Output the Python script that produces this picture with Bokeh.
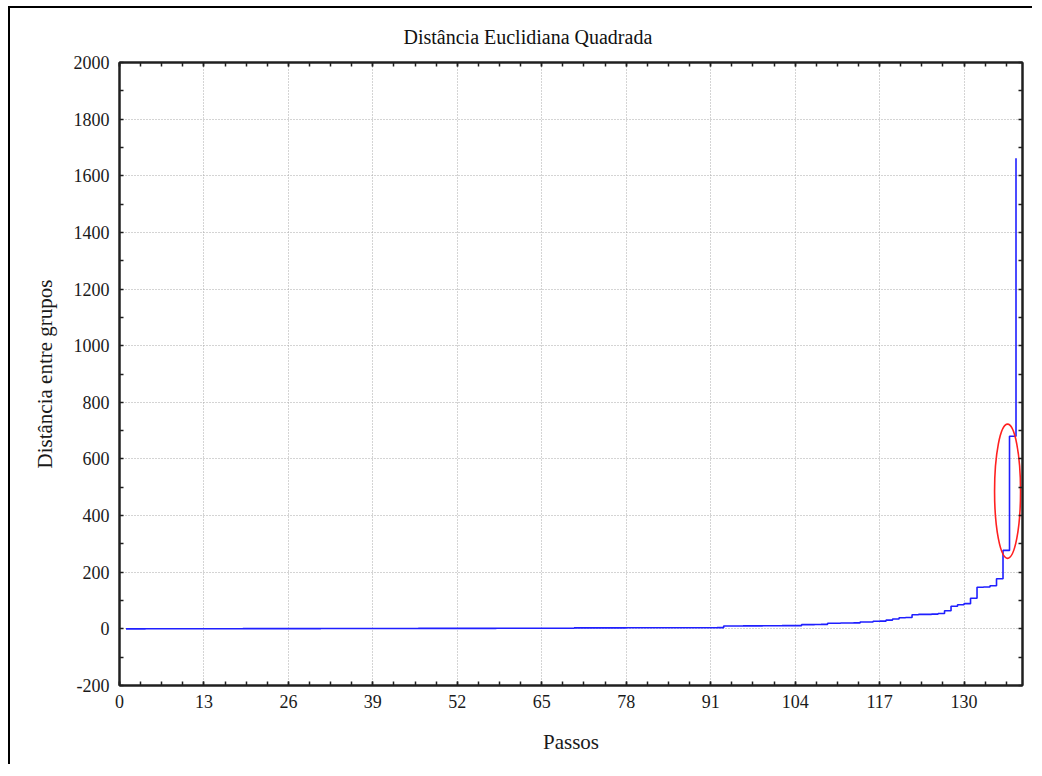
from bokeh.plotting import figure
from bokeh.models import LinearAxis, Range1d, FixedTicker, Title
from bokeh.embed import file_html
from bokeh.resources import INLINE

# ---- data ----
steps = list(range(1, 139))
distances = (
    [0.1, 0.1, 0.1, 0.2, 0.2, 0.2, 0.3, 0.3, 0.3, 0.4,
     0.4, 0.4, 0.5, 0.5, 0.5, 0.6, 0.6, 0.6, 0.7, 0.7,
     0.7, 0.8, 0.8, 0.8, 0.9, 0.9, 0.9, 1.0, 1.0, 1.0,
     1.1, 1.1, 1.1, 1.2, 1.2, 1.2, 1.3, 1.3, 1.3, 1.4,
     1.4, 1.4, 1.5, 1.5, 1.5, 1.6, 1.6, 1.6, 1.7, 1.7,
     1.7, 1.8, 1.8, 1.8, 1.9, 1.9, 1.9, 2.0, 2.0, 2.0,
     2.1, 2.1, 2.1, 2.2, 2.2, 2.3, 2.3, 2.4, 2.4]
    + [3.4, 3.4, 3.5, 3.5, 3.5, 3.6, 3.6, 3.6, 3.7, 3.7,
       3.7, 3.8, 3.8, 3.8, 3.9, 3.9, 3.9, 4.0, 4.0, 4.0,
       4.1, 4.1, 4.2]
    + [10, 10, 10, 10.5, 10.5, 10.5, 11, 11, 11, 11.5, 11.5, 11.5]
    + [15, 15, 15.5, 16]
    + [20, 20, 20.5, 20.5, 21]
    + [24, 24.5]
    + [27, 27.5]
    + [31, 35, 39, 40]
    + [50, 51, 51, 52]
    + [54, 64, 80, 85, 89, 108, 147, 148, 152, 177, 277, 680, 1662]
)

x_ticks = [0, 13, 26, 39, 52, 65, 78, 91, 104, 117, 130]
y_ticks = [-200, 0, 200, 400, 600, 800, 1000, 1200, 1400, 1600, 1800, 2000]

# highlighted region (ellipse annotation): centre x, centre y, width, height
mark_x = [136.7]
mark_y = [486]
mark_w = [4.0]
mark_h = [474]

title_text = "Distância Euclidiana Quadrada"
x_label = "Passos"
y_label = "Distância entre grupos"

FONT = "Liberation Serif"

x_minor = [t + k * 3.25 for t in x_ticks + [143] for k in range(0, 4)]
y_minor = [t + 100 for t in y_ticks]

p = figure(width=1024, height=758,
           x_range=Range1d(0, 139), y_range=Range1d(-200, 2000),
           output_backend="svg", toolbar_location=None,
           min_border_left=109, min_border_right=12,
           min_border_top=54, min_border_bottom=81,
           title=None,
           styles={"border-left": "2px solid black", "border-top": "2px solid black",
                   "margin-left": "8px", "margin-top": "6px"})

p.background_fill_color = "white"
p.border_fill_color = "white"
p.outline_line_color = "#202020"
p.outline_line_width = 2

xt = FixedTicker(ticks=x_ticks, minor_ticks=x_minor)
yt = FixedTicker(ticks=y_ticks, minor_ticks=y_minor)

p.xaxis.ticker = xt
p.yaxis.ticker = yt

for ax in (p.xaxis[0], p.yaxis[0]):
    ax.axis_line_color = "#202020"
    ax.axis_line_width = 2
    ax.major_tick_in = 4
    ax.major_tick_out = 0
    ax.minor_tick_in = 4
    ax.minor_tick_out = 0
    ax.major_tick_line_color = "#202020"
    ax.minor_tick_line_color = "#202020"
    ax.major_tick_line_width = 1.5
    ax.minor_tick_line_width = 1.5
    ax.major_label_text_font = FONT
    ax.major_label_text_font_size = "18px"
    ax.major_label_text_color = "#1a1a1a"
    ax.axis_label_text_font = FONT
    ax.axis_label_text_font_size = "21px"
    ax.axis_label_text_font_style = "normal"
    ax.axis_label_text_color = "#1a1a1a"

p.yaxis.major_label_overrides = {-200: "-200"}
p.xaxis.axis_label = x_label
p.yaxis.axis_label = y_label
p.xaxis.major_label_standoff = 9
p.yaxis.major_label_standoff = 10
p.xaxis.axis_label_standoff = 19
p.yaxis.axis_label_standoff = 14

for side, tk in (("above", xt), ("right", yt)):
    ax = LinearAxis(ticker=tk)
    ax.axis_line_color = "#202020"
    ax.axis_line_width = 2
    ax.major_tick_in = 4
    ax.major_tick_out = 0
    ax.minor_tick_in = 4
    ax.minor_tick_out = 0
    ax.major_tick_line_color = "#202020"
    ax.minor_tick_line_color = "#202020"
    ax.major_tick_line_width = 1.5
    ax.minor_tick_line_width = 1.5
    ax.major_label_text_font_size = "0px"
    ax.major_label_standoff = 0
    p.add_layout(ax, side)

p.add_layout(Title(text=title_text, text_font=FONT, text_font_size="20px",
                   text_font_style="normal", text_color="#111111",
                   align="left", offset=284, standoff=29), "above")

p.xgrid.ticker = xt
p.ygrid.ticker = yt
for g in (p.xgrid[0], p.ygrid[0]):
    g.grid_line_color = "#a8a8a8"
    g.grid_line_dash = "1 2"
    g.grid_line_width = 1

p.step(steps, distances, mode="after", line_color="#1f1fff", line_width=1.6)
p.ellipse(x=mark_x, y=mark_y, width=mark_w, height=mark_h,
          fill_alpha=0, line_color="#ff2020", line_width=1.6)

open("out.html", "w").write(file_html(p, INLINE))
